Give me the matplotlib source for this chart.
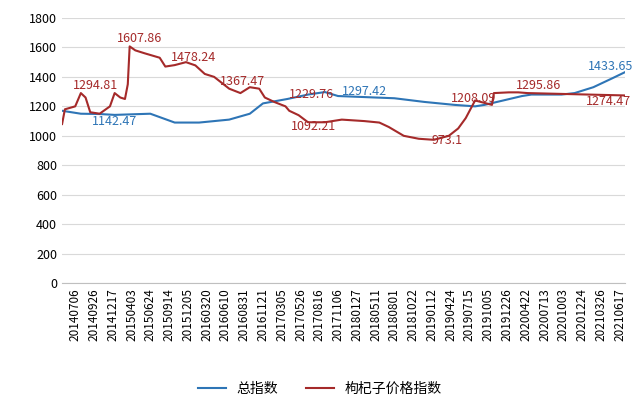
import matplotlib
matplotlib.use("Agg")
import matplotlib.pyplot as plt

plt.rcParams['font.family'] = ['Noto Sans CJK SC', 'DejaVu Sans']

dates = ["20140706","20140926","20141217","20150403","20150624","20150914","20151205",
         "20160320","20160610","20160831","20161121","20170305","20170526","20170816",
         "20171106","20180127","20180511","20180801","20181022","20190112","20190424",
         "20190715","20191005","20191226","20200422","20200713","20201003","20201224",
         "20210326","20210617"]

# positions in category units (0 = first tick label)
total_x = [-0.7,0.3,1.3,2.1,4.0,5.3,6.6,8.2,9.3,10.0,11.3,12.4,13.3,14.0,16.0,17.0,18.6,20.2,21.3,21.8,22.8,23.8,24.3,25.9,26.6,27.6,28.6,29.3]
total_y = [1170,1150,1148,1142,1150,1090,1090,1110,1150,1220,1250,1280,1297,1270,1260,1255,1230,1210,1200,1210,1240,1270,1280,1280,1290,1330,1390,1433]

red_x = [-0.7,-0.55,0.0,0.3,0.55,0.8,1.3,1.85,2.1,2.4,2.65,2.8,2.9,3.2,3.7,4.5,4.8,5.3,5.9,6.4,6.9,7.4,8.2,8.8,9.3,9.8,10.1,10.6,11.2,11.4,11.9,12.4,13.3,14.2,15.4,16.2,16.7,17.5,18.3,19.1,19.9,20.4,20.8,21.3,22.2,22.3,23.1,23.6,24.1,29.3]
red_y = [1080,1180,1200,1290,1260,1160,1150,1200,1290,1260,1250,1350,1607,1580,1560,1530,1470,1480,1500,1478,1420,1400,1320,1290,1330,1320,1260,1230,1200,1170,1140,1092,1092,1110,1100,1090,1060,1000,980,973,1000,1050,1120,1240,1210,1290,1295,1295,1290,1274]

fig = plt.figure(figsize=(6.4, 4.08), dpi=100)
ax = fig.add_axes([0.097, 0.306, 0.88, 0.65])
blue = "#2E75B6"; red = "#A52A2A"
ax.plot(total_x, total_y, color=blue, lw=1.5, label="总指数")
ax.plot(red_x, red_y, color=red, lw=1.5, label="枸杞子价格指数")
ax.set_xlim(-0.7, 29.3)
ax.set_ylim(0, 1800)
ax.set_yticks(range(0, 1801, 200))
ax.set_xticks(range(len(dates)))
ax.set_xticklabels(dates, rotation=90, fontsize=8.5)
ax.tick_params(axis='y', labelsize=9, length=0)
ax.tick_params(axis='x', length=0)
ax.grid(axis='y', color="#d9d9d9", lw=0.8)
for s in ["top", "right", "left"]:
    ax.spines[s].set_visible(False)
ax.spines["bottom"].set_color("#bfbfbf")

def lab(x, y, t, c):
    ax.text(x, y, t, color=c, fontsize=9, ha='center', va='center')
lab(3.4, 1660, "1607.86", red)
lab(6.3, 1530, "1478.24", red)
lab(1.1, 1340, "1294.81", red)
lab(2.1, 1100, "1142.47", blue)
lab(8.9, 1370, "1367.47", red)
lab(12.6, 1280, "1229.76", red)
lab(12.7, 1060, "1092.21", red)
lab(15.4, 1300, "1297.42", blue)
lab(21.2, 1250, "1208.09", red)
lab(19.8, 970, "973.1", red)
lab(24.7, 1340, "1295.86", red)
lab(28.5, 1470, "1433.65", blue)
lab(28.4, 1230, "1274.47", red)

fig.legend(loc="lower center", bbox_to_anchor=(0.5, 0.0), ncol=2, frameon=False, fontsize=10)
fig.savefig("out.png")
